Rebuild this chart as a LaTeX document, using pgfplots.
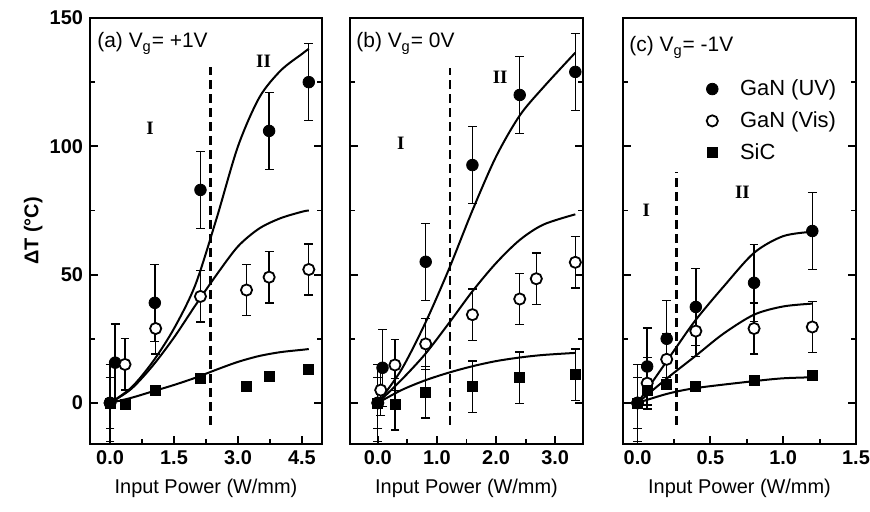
\documentclass[border=0pt]{standalone}
\usepackage{fontspec}
\setmainfont{Liberation Sans}
\newfontfamily\romanfont{Liberation Serif}
\usepackage{pgfplots}
\pgfplotsset{compat=1.18}

\pgfplotsset{
  panel/.style={
    scale only axis, width=116.5bp, height=213bp,
    ymin=-16, ymax=150, ytick={0,50,100,150}, minor y tick num=1,
    tick align=inside, xtick pos=lower, ytick pos=both,
    axis line style={line width=1.1bp},
    tick style={black, line width=0.9bp},
    major tick length=4bp, minor tick length=2.5bp,
    tick label style={font=\fontsize{10}{12}\selectfont\bfseries},
    /pgf/number format/assume math mode=true,
    xticklabel style={/pgf/number format/fixed, /pgf/number format/fixed zerofill,
      /pgf/number format/precision=1},
    xlabel={Input Power (W/mm)},
    label style={font=\fontsize{10}{12}\selectfont},
  },
  errb/.style={error bars/.cd, y dir=both, y explicit,
    error bar style={line width=0.7bp, black},
    error mark options={rotate=90, mark size=2.2bp, line width=0.7bp, black}},
  uv/.style={only marks, mark=*, mark size=2.9bp, black},
  vis/.style={only marks, mark=*, mark size=2.8bp, black, mark options={fill=white, line width=0.9bp}},
  sic/.style={only marks, mark=square*, mark size=2.5bp, black},
  fit/.style={no markers, smooth, line width=1bp, black, forget plot},
  divider/.style={no markers, line width=1.4bp, black, dash pattern=on 4.5bp off 2.5bp, forget plot},
}
\tikzset{
  region/.style={font=\romanfont\bfseries\fontsize{9.5}{11}\selectfont},
  tag/.style={anchor=base west, inner sep=0pt, font=\fontsize{10.5}{12}\selectfont},
}

\begin{document}
\begin{tikzpicture}
\path[use as bounding box] (0,0) rectangle (435bp,256bp);

% (a) Vg = +1 V
\begin{axis}[panel, at={(45bp,34bp)}, anchor=south west, width=116bp,
  xmin=-0.47, xmax=4.97, xtick={0,1.5,3,4.5}, minor x tick num=1,
  ylabel={\bfseries ΔT (°C)},
  ylabel style={at={(axis description cs:-0.245,0.5)}, anchor=center}]
\addplot[divider] coordinates {(2.36,-8.5) (2.36,131)};
\addplot[fit] coordinates {(0,0) (0.5,6) (1.0,16) (1.5,29) (2.0,46) (2.5,72) (3.0,100)
  (3.5,119) (4.0,129.5) (4.5,136) (4.66,138)};
\addplot[fit] coordinates {(0,0) (0.5,5.5) (1.0,14.5) (1.5,25.5) (2.0,38) (2.5,50) (3.0,61)
  (3.5,68) (4.0,72) (4.5,74.5) (4.66,75)};
\addplot[fit] coordinates {(0,0) (0.5,2) (1.0,4.5) (1.5,7) (2.0,9.8) (2.5,13) (3.0,16)
  (3.5,18.3) (4.0,19.8) (4.5,20.7) (4.66,21)};
\addplot[uv, errb] table[row sep=\\, y error=e] {
x y e \\ 0 0 15 \\ 0.12 15.7 15 \\ 1.05 39 15 \\ 2.12 83 15 \\ 3.73 106 15 \\ 4.66 125 15 \\
};
\addplot[vis, errb] table[row sep=\\, y error=e] {
x y e \\ 0 0 10 \\ 0.35 15 10 \\ 1.07 29 10 \\ 2.12 41.5 10 \\ 3.2 44 10 \\ 3.73 49 10 \\ 4.66 52 10 \\
};
\addplot[sic] table[row sep=\\] {
x y \\ 0 0 \\ 0.35 -0.5 \\ 1.07 4.7 \\ 2.12 9.5 \\ 3.2 6.6 \\ 3.73 10.2 \\ 4.66 13 \\
};
\node[region] at (axis cs:0.94,107) {I};
\node[region] at (axis cs:3.6,133) {II};
\node[tag, xshift=3.5bp, yshift=-15bp] at (rel axis cs:0,1) {(a) V\textsubscript{g}= +1V};
\end{axis}

% (b) Vg = 0 V
\begin{axis}[panel, at={(175bp,34bp)}, anchor=south west,
  xmin=-0.47, xmax=3.47, xtick={0,1,2,3}, minor x tick num=1, yticklabels={}]
\addplot[divider] coordinates {(1.22,-8.5) (1.22,130.5)};
\addplot[fit] coordinates {(0,0) (0.4,13) (0.8,31) (1.2,52) (1.6,75) (2.0,96) (2.4,112)
  (2.8,123) (3.34,136.5)};
\addplot[fit] coordinates {(0,0) (0.4,9) (0.8,19) (1.2,31) (1.6,43.5) (2.0,54.5) (2.4,63.5)
  (2.8,69.5) (3.34,73.5)};
\addplot[fit] coordinates {(0,0) (0.4,5) (0.8,8.8) (1.2,11.8) (1.6,14.3) (2.0,16.3) (2.4,17.7)
  (2.8,18.7) (3.34,19.5)};
\addplot[uv, errb] table[row sep=\\, y error=e] {
x y e \\ 0 0 15 \\ 0.08 13.7 15 \\ 0.81 55 15 \\ 1.6 92.7 15 \\ 2.4 120 15 \\ 3.34 129 15 \\
};
\addplot[vis, errb] table[row sep=\\, y error=e] {
x y e \\ 0 0 10 \\ 0.05 5 10 \\ 0.29 14.8 10 \\ 0.81 23 10 \\ 1.6 34.4 10 \\ 2.4 40.5 10 \\ 2.68 48.4 10 \\ 3.34 54.8 10 \\
};
\addplot[sic, errb] table[row sep=\\, y error=e] {
x y e \\ 0 0 10 \\ 0.29 -0.5 10 \\ 0.81 4.2 10 \\ 1.6 6.3 10 \\ 2.4 9.8 10 \\ 3.34 11 10 \\
};
\node[region] at (axis cs:0.39,101) {I};
\node[region] at (axis cs:2.07,127) {II};
\node[tag, xshift=3bp, yshift=-15bp] at (rel axis cs:0,1) {(b) V\textsubscript{g}= 0V};
\end{axis}

% (c) Vg = -1 V
\begin{axis}[panel, at={(311.5bp,34bp)}, anchor=south west,
  xmin=-0.1, xmax=1.5, xtick={0,0.5,1,1.5}, minor x tick num=1, yticklabels={},
  legend style={draw=none, fill=none, at={(0.331,0.875)}, anchor=north west,
    font=\fontsize{11}{13}\selectfont, row sep=2.5bp,
    /tikz/every odd column/.append style={column sep=9bp}},
  legend cell align=left]
\addplot[divider] coordinates {(0.27,-8.5) (0.27,90)};
\addplot[fit] coordinates {(0,0) (0.13,10.5) (0.27,22) (0.4,32.4) (0.59,45.3) (0.8,58.5)
  (1.0,65) (1.2,66.7)};
\addplot[fit] coordinates {(0,0) (0.2,9.5) (0.4,18.4) (0.59,27) (0.8,34.4) (1.0,37.6) (1.2,38.7)};
\addplot[fit] coordinates {(0,0) (0.2,3.5) (0.4,5.8) (0.8,8.5) (1.0,9.6) (1.2,10)};
\addplot[uv, errb] table[row sep=\\, y error=e] {
x y e \\ 0 0 15 \\ 0.066 14.2 15 \\ 0.2 25 15 \\ 0.4 37.4 15 \\ 0.8 46.8 15 \\ 1.2 67 15 \\
};
\addplot[vis, errb] table[row sep=\\, y error=e] {
x y e \\ 0 0 10 \\ 0.066 7.7 10 \\ 0.2 17 10 \\ 0.4 28 10 \\ 0.8 29 10 \\ 1.2 29.6 10 \\
};
\addplot[sic] table[row sep=\\] {
x y \\ 0 0 \\ 0.066 4.7 \\ 0.2 7.3 \\ 0.4 6.6 \\ 0.8 8.7 \\ 1.2 10.6 \\
};
\legend{GaN (UV), GaN (Vis), SiC}
\node[region] at (axis cs:0.06,75) {I};
\node[region] at (axis cs:0.72,82) {II};
\node[tag, xshift=3bp, yshift=-17bp] at (rel axis cs:0,1) {(c) V\textsubscript{g}= -1V};
\end{axis}
\end{tikzpicture}
\end{document}
